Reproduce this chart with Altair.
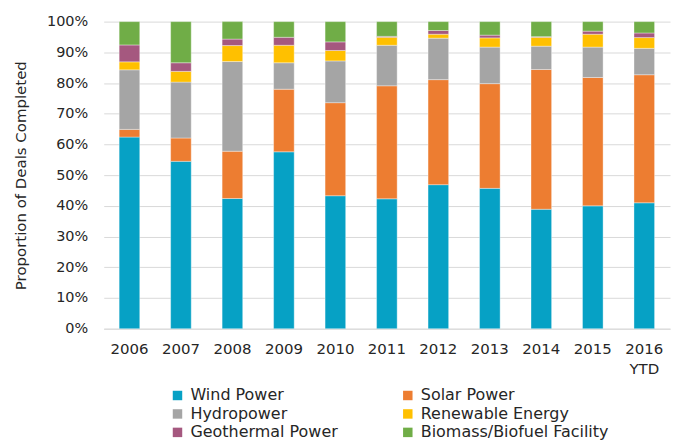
import altair as alt
import pandas as pd

years = ["2006", "2007", "2008", "2009", "2010", "2011", "2012", "2013", "2014", "2015", "2016 YTD"]
series = ["Wind Power", "Solar Power", "Hydropower", "Renewable Energy", "Geothermal Power", "Biomass/Biofuel Facility"]
colors = ["#06A1C5", "#ED7D31", "#A5A5A5", "#FFC000", "#A5587F", "#70AD47"]

wind = [62.4, 54.5, 42.4, 57.6, 43.3, 42.3, 46.9, 45.7, 38.9, 40.0, 41.0]
solar = [2.5, 7.6, 15.4, 20.4, 30.3, 36.8, 34.2, 34.1, 45.5, 41.8, 41.7]
hydro = [19.4, 18.2, 29.2, 8.6, 13.6, 13.2, 13.5, 11.9, 7.6, 9.9, 8.6]
renewable = [2.6, 3.5, 5.2, 5.7, 3.4, 2.6, 1.3, 3.0, 2.9, 4.2, 3.5]
geothermal = [5.5, 2.8, 2.1, 2.6, 2.8, 0.3, 1.2, 0.9, 0.2, 1.0, 1.5]
biomass = [7.6, 13.4, 5.7, 5.1, 6.6, 4.8, 2.9, 4.4, 4.9, 3.1, 3.7]

values = [wind, solar, hydro, renewable, geothermal, biomass]
rows = []
for si, (name, vals) in enumerate(zip(series, values)):
    for y, v in zip(years, vals):
        rows.append({"year": y, "series": name, "value": v / 100.0, "order": si})
df = pd.DataFrame(rows)

FONT = "DejaVu Sans"
TXT = "#262626"

chart = alt.Chart(df).mark_bar(stroke="white", strokeWidth=0.6, strokeOpacity=0.6).encode(
    x=alt.X("year:N", sort=years, title=None,
            scale=alt.Scale(paddingInner=0.6, paddingOuter=0.3),
            axis=alt.Axis(labelAngle=0, labelExpr="split(datum.label, ' ')", labelFontSize=15,
                          labelColor=TXT, labelFont=FONT, domainColor="#D9D9D9", ticks=False,
                          labelPadding=13, labelLineHeight=20)),
    y=alt.Y("value:Q", stack="zero", title="Proportion of Deals Completed",
            scale=alt.Scale(domain=[0, 1], nice=False),
            axis=alt.Axis(format=".0%", values=[i / 10 for i in range(11)], labelFontSize=14.5,
                          labelColor=TXT, labelFont=FONT, titleFont=FONT, titleFontSize=15,
                          titleFontWeight="normal", titleColor=TXT, gridColor="#D9D9D9",
                          domain=False, ticks=False, labelPadding=16, titlePadding=18)),
    color=alt.Color("series:N", sort=series,
                    scale=alt.Scale(domain=series, range=colors),
                    legend=alt.Legend(title=None, orient="none", legendX=66, legendY=367,
                                      direction="horizontal", columns=2, columnPadding=62, rowPadding=2.5,
                                      symbolType="square", symbolSize=90, symbolStrokeWidth=0,
                                      labelFontSize=16, labelFont=FONT, labelColor=TXT,
                                      labelLimit=300, symbolOffset=0, labelOffset=5)),
    order=alt.Order("order:Q", sort="ascending"),
).properties(width=568, height=308, padding={"left": 5, "top": 5, "right": 5, "bottom": 5}).configure_view(stroke=None)

chart.save("out.html", embed_options={"renderer": "svg", "actions": False})
